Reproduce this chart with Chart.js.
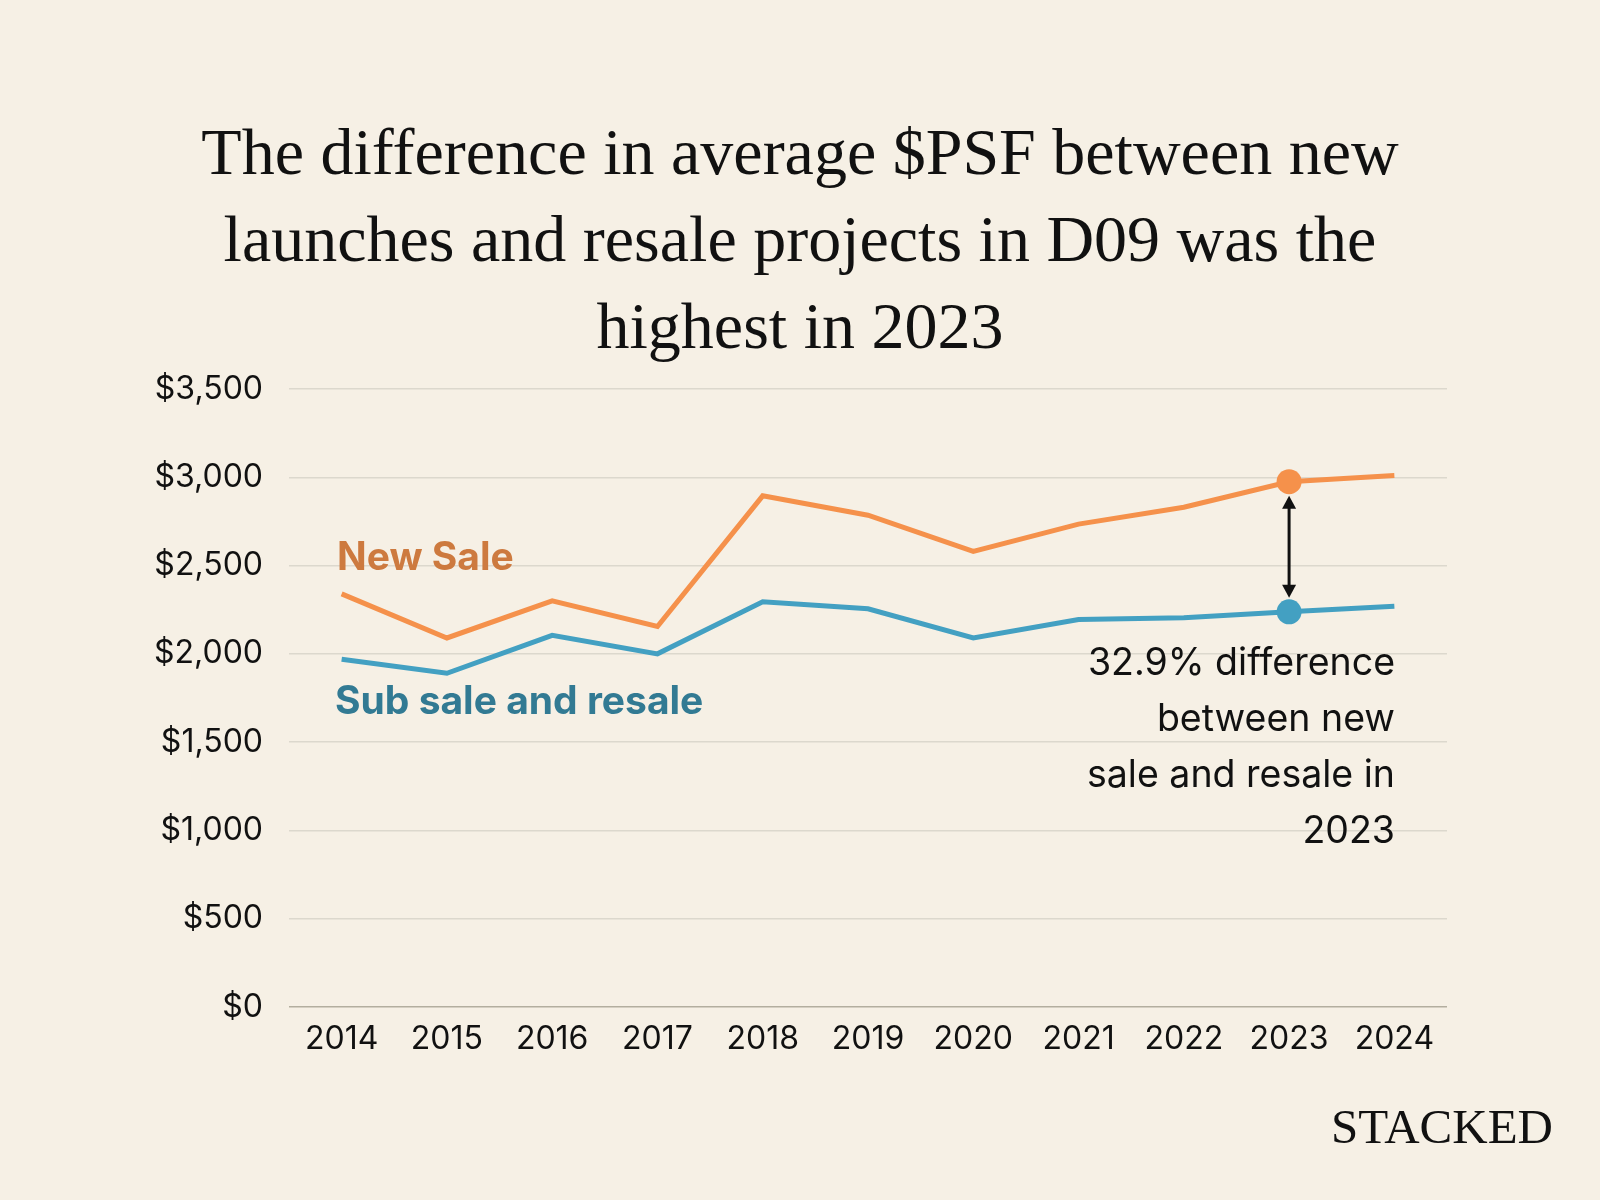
<!DOCTYPE html>
<html>
<head>
<meta charset="utf-8">
<script src="https://cdn.jsdelivr.net/npm/chart.js@4.4.1/dist/chart.umd.min.js"></script>
<style>
  html, body { margin: 0; padding: 0; background: #f6f0e5; }
  #wrap { width: 1600px; height: 1200px; }
</style>
</head>
<body>
<div id="wrap"><canvas id="psf-chart" width="1600" height="1200"></canvas></div>
<script>
// data
var years = ["2014", "2015", "2016", "2017", "2018", "2019", "2020", "2021", "2022", "2023", "2024"];
var newSale = [2340, 2090, 2300, 2155, 2895, 2785, 2580, 2735, 2830, 2975, 3010];
var subSaleResale = [1970, 1890, 2105, 2000, 2295, 2255, 2090, 2195, 2205, 2238, 2270];
var titleLines = [
    "The difference in average $PSF between new",
    "launches and resale projects in D09 was the",
    "highest in 2023"
];
var noteLines = ["32.9% difference", "between new", "sale and resale in", "2023"];
var markIndex = 9; // 2023

var orange = "#f5914b";
var teal = "#43a0c2";

function markRadius() {
    return years.map(function (y, i) { return i === markIndex ? 12.5 : 0; });
}

// extra text, arrow and brand drawn on top
var extras = {
    id: "extras",
    afterDatasetsDraw: function (chart) {
        var ctx = chart.ctx;
        var x = chart.scales.x;
        var y = chart.scales.y;
        ctx.save();

        // title
        ctx.fillStyle = "#111";
        ctx.textAlign = "center";
        ctx.textBaseline = "middle";
        ctx.font = "66px 'Liberation Serif', serif";
        titleLines.forEach(function (t, i) {
            ctx.fillText(t, 800, 157 + i * 87);
        });

        // series labels
        ctx.textAlign = "left";
        ctx.font = "bold 39px Inter, 'Noto Sans', sans-serif";
        ctx.fillStyle = "#cd7a3f";
        ctx.fillText("New Sale", 337, 558);
        ctx.fillStyle = "#327a93";
        ctx.fillText("Sub sale and resale", 335, 702);

        // arrow between the two 2023 points
        var ax = x.getPixelForValue(markIndex);
        var top = y.getPixelForValue(newSale[markIndex]) + 14;
        var bot = y.getPixelForValue(subSaleResale[markIndex]) - 14;
        ctx.strokeStyle = "#111";
        ctx.fillStyle = "#111";
        ctx.lineWidth = 3;
        ctx.beginPath();
        ctx.moveTo(ax, top + 10);
        ctx.lineTo(ax, bot - 10);
        ctx.stroke();
        ctx.beginPath();
        ctx.moveTo(ax, top);
        ctx.lineTo(ax - 7, top + 13);
        ctx.lineTo(ax + 7, top + 13);
        ctx.closePath();
        ctx.fill();
        ctx.beginPath();
        ctx.moveTo(ax, bot);
        ctx.lineTo(ax - 7, bot - 13);
        ctx.lineTo(ax + 7, bot - 13);
        ctx.closePath();
        ctx.fill();

        // note
        ctx.textAlign = "right";
        ctx.font = "37.5px Inter, 'Noto Sans', sans-serif";
        noteLines.forEach(function (t, i) {
            ctx.fillText(t, 1395, 664 + i * 56);
        });

        // brand
        ctx.font = "49px 'Liberation Serif', serif";
        ctx.fillText("STACKED", 1553, 1130);

        ctx.restore();
    }
};

var ctx1 = document.getElementById("psf-chart");
var psfChart = new Chart(ctx1, {
    type: "line",
    data: {
        labels: years,
        datasets: [{
                label: "New Sale",
                data: newSale,
                borderColor: orange,
                backgroundColor: orange,
                borderWidth: 5,
                pointRadius: markRadius(),
                pointHoverRadius: markRadius(),
                pointBorderWidth: 0,
                tension: 0
            },
            {
                label: "Sub sale and resale",
                data: subSaleResale,
                borderColor: teal,
                backgroundColor: teal,
                borderWidth: 5,
                pointRadius: markRadius(),
                pointHoverRadius: markRadius(),
                pointBorderWidth: 0,
                tension: 0
            }
        ]
    },
    options: {
        responsive: false,
        animation: false,
        layout: {
            padding: { top: 389, right: 153, left: 0, bottom: 0 }
        },
        plugins: {
            legend: { display: false },
            tooltip: { enabled: false }
        },
        scales: {
            x: {
                offset: true,
                grid: { display: false, drawTicks: false },
                border: { display: false },
                ticks: {
                    color: "#111",
                    padding: 13,
                    font: { size: 32, family: "Inter, 'Noto Sans', sans-serif" }
                },
                afterFit: function (s) { s.height = 193; }
            },
            y: {
                min: 0,
                max: 3500,
                ticks: {
                    stepSize: 500,
                    color: "#111",
                    padding: 26,
                    font: { size: 32, family: "Inter, 'Noto Sans', sans-serif" },
                    callback: function (v) { return "$" + v.toLocaleString("en-US"); }
                },
                grid: {
                    drawTicks: false,
                    lineWidth: 1.5,
                    color: function (c) { return c.tick && c.tick.value === 0 ? "#b3ae9f" : "#dcd8cd"; }
                },
                border: { display: false },
                afterFit: function (s) { s.width = 289; }
            }
        }
    },
    plugins: [extras]
});
</script>
</body>
</html>
